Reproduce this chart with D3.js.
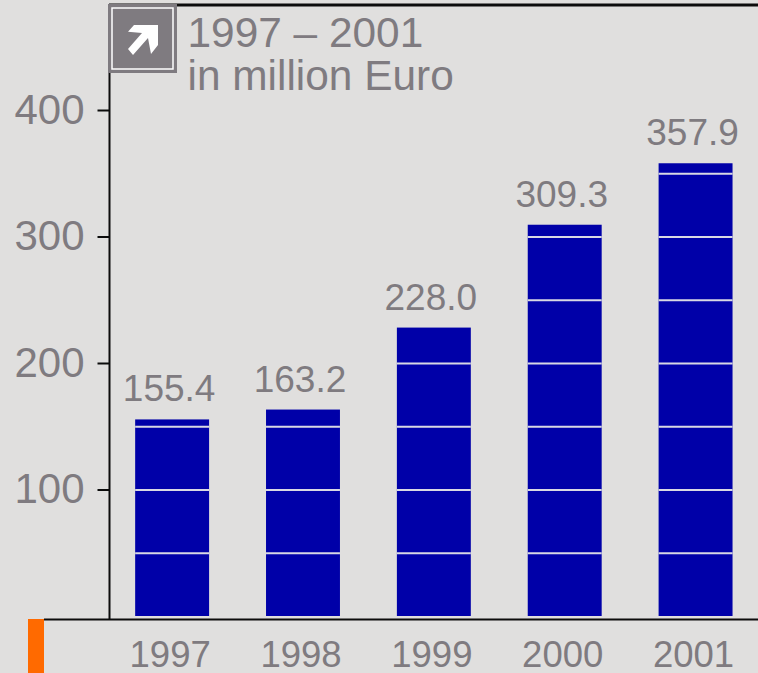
<!DOCTYPE html>
<html><head><meta charset="utf-8">
<script src="https://cdnjs.cloudflare.com/ajax/libs/d3/7.8.5/d3.min.js"></script>
<style>html,body{margin:0;padding:0;background:#e0dfde;overflow:hidden}svg{display:block}text{font-family:"Liberation Sans",Arial,sans-serif;fill:#7f7b80}</style>
</head><body><svg id="c" width="758" height="673"></svg>
<script>
const years = ["1997","1998","1999","2000","2001"];
const values = [155.4,163.2,228.0,309.3,357.9];
const valueLabels = ["155.4","163.2","228.0","309.3","357.9"];
const yTicks = [100,200,300,400];
const gridValues = [50,100,150,200,250,300,350];
const titleLines = ["1997 – 2001","in million Euro"];

const svg = d3.select("#c");
const ink="#0c0c0c", grey="#7f7b80", blue="#0000a8";
const x = d3.scaleBand().domain(years).range([106.7,761]).paddingInner(0.435).paddingOuter(0.2175);
const y = d3.scaleLinear().domain([0,400]).range([616,110]);

svg.selectAll("rect.bar").data(values).join("rect").attr("class","bar")
  .attr("x",(d,i)=>x(years[i])).attr("width",x.bandwidth())
  .attr("y",d=>y(d)).attr("height",d=>y(0)-y(d)).attr("fill",blue);
const gl = svg.append("g").attr("transform","translate(0,0.5)");
values.forEach((v,i)=>{
  gl.selectAll(null).data(gridValues.filter(g=>g<v)).join("line")
    .attr("x1",x(years[i])).attr("x2",x(years[i])+x.bandwidth())
    .attr("y1",g=>y(g)).attr("y2",g=>y(g))
    .attr("stroke","#d8d8e4").attr("stroke-width",2);
});
svg.selectAll("text.val").data(values).join("text").attr("class","val")
  .attr("x",(d,i)=>x(years[i])+x.bandwidth()/2-3).attr("y",d=>y(d)-18)
  .attr("text-anchor","middle").attr("font-size",37).text((d,i)=>valueLabels[i]);

const ay = svg.append("g").attr("transform","translate(109.5,0)")
  .call(d3.axisLeft(y).tickValues(yTicks).tickSize(12).tickPadding(13).tickFormat(d3.format("d")));
ay.select(".domain").remove();
ay.selectAll(".tick line").attr("stroke",ink).attr("stroke-width",2);
ay.selectAll(".tick text").attr("font-size",42).attr("font-family",null).style("fill",grey);
const ax = svg.append("g").attr("transform","translate(-2,619.5)")
  .call(d3.axisBottom(x).tickSize(0).tickPadding(18));
ax.select(".domain").remove();
ax.selectAll(".tick text").attr("font-size",36.5).attr("dy","0.82em").attr("font-family",null).style("fill",grey);

svg.append("line").attr("x1",109.5).attr("x2",109.5).attr("y1",4).attr("y2",619).attr("stroke",ink).attr("stroke-width",2);
svg.append("line").attr("x1",44).attr("x2",758).attr("y1",619.5).attr("y2",619.5).attr("stroke",ink).attr("stroke-width",2);
svg.append("line").attr("x1",109).attr("x2",758).attr("y1",5).attr("y2",5).attr("stroke",ink).attr("stroke-width",3);
svg.append("rect").attr("x",28).attr("y",619).attr("width",16).attr("height",54).attr("fill","#ff6a00");

svg.append("rect").attr("x",108).attr("y",4).attr("width",69).attr("height",69).attr("fill","#7f7b80");
svg.append("rect").attr("x",112).attr("y",8).attr("width",61).attr("height",61).attr("fill","#7f7b80").attr("stroke","#fff").attr("stroke-width",1.5);
svg.append("path").attr("fill","#fff").attr("d",d3.line()([[128,31.7],[134,25],[158,25],[158,45],[151,54],[148,38],[133,55],[128,49],[142,33]])+"Z");

svg.selectAll("text.title").data(titleLines).join("text").attr("class","title")
  .attr("x",187.5).attr("y",(d,i)=>47+i*43).attr("font-size",42.4).text(d=>d);
</script></body></html>
